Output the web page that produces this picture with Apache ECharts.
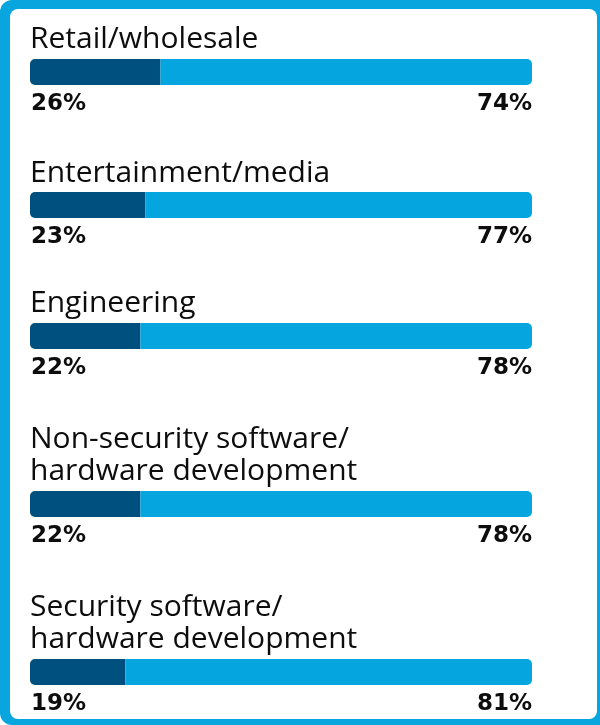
<!DOCTYPE html>
<html>
<head>
<meta charset="utf-8">
<script src="https://cdn.jsdelivr.net/npm/echarts@6/dist/echarts.min.js"></script>
<style>
html,body{margin:0;padding:0;background:#fff;}
#chart{width:600px;height:725px;}
</style>
</head>
<body>
<div id="chart"></div>
<script>
const categories = [
  "Retail/wholesale",
  "Entertainment/media",
  "Engineering",
  "Non-security software/\nhardware development",
  "Security software/\nhardware development"
];
const darkValues = [26, 23, 22, 22, 19];
const lightValues = [74, 77, 78, 78, 81];

const barTops = [59, 192, 323, 491, 659];
const titleTops = [23, 157, 287, 423, 591];
const DARK = '#00507f';
const LIGHT = '#05a6df';

const grids = [], xAxes = [], yAxes = [], series = [], titles = [];
categories.forEach((cat, i) => {
  grids.push({ left: 30, width: 502, top: barTops[i], height: 26 });
  xAxes.push({ type: 'value', gridIndex: i, min: 0, max: 100, show: false });
  yAxes.push({ type: 'category', gridIndex: i, data: [cat], show: false });
  titles.push({
    text: cat, left: 30, top: titleTops[i], padding: 0,
    textStyle: { fontFamily: 'Open Sans', fontWeight: 'normal', fontSize: 30, lineHeight: 32, color: '#0d0d0d' }
  });
  const lbl = { fontFamily: 'DejaVu Sans', fontWeight: 'bold', fontSize: 23, lineHeight: 23, color: '#0d0d0d' };
  series.push({
    type: 'bar', stack: 's' + i, xAxisIndex: i, yAxisIndex: i, barWidth: 26,
    data: [darkValues[i]],
    itemStyle: { color: DARK, borderRadius: [5, 0, 0, 5] },
    label: Object.assign({ show: true, position: [1, 34], align: 'left', verticalAlign: 'top', formatter: '{c}%' }, lbl),
    silent: true
  });
  series.push({
    type: 'bar', stack: 's' + i, xAxisIndex: i, yAxisIndex: i, barWidth: 26,
    data: [lightValues[i]],
    itemStyle: { color: LIGHT, borderRadius: [0, 5, 5, 0] },
    label: Object.assign({ show: true, position: ['100%', 34], align: 'right', verticalAlign: 'top', formatter: '{c}%' }, lbl),
    silent: true
  });
});

const chart = echarts.init(document.getElementById('chart'), null, { renderer: 'canvas' });
chart.setOption({
  animation: false,
  backgroundColor: '#fff',
  graphic: [
    { type: 'rect', z: -10, shape: { x: 0, y: 0, width: 600, height: 725, r: [12, 0, 0, 12] }, style: { fill: '#08a5de' } },
    { type: 'rect', z: -9, shape: { x: 10, y: 9, width: 587, height: 710, r: 8 }, style: { fill: '#fff' } }
  ],
  title: titles,
  grid: grids,
  xAxis: xAxes,
  yAxis: yAxes,
  series: series
});
</script>
</body>
</html>
